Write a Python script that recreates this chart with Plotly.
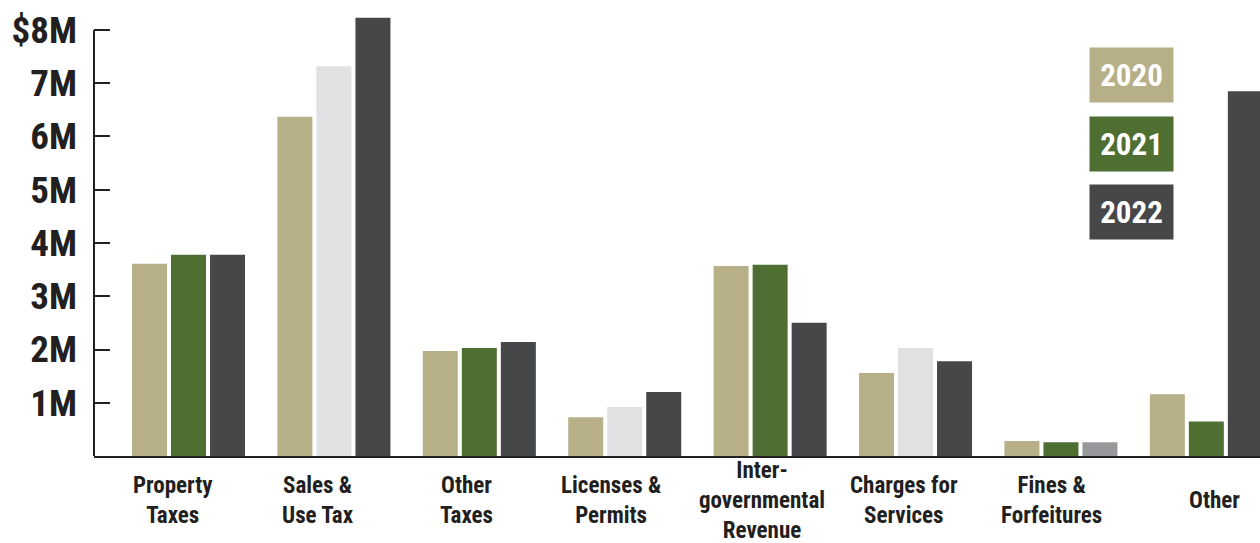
import plotly.graph_objects as go

categories = ["Property Taxes", "Sales & Use Tax", "Other Taxes", "Licenses & Permits",
              "Intergovernmental Revenue", "Charges for Services", "Fines & Forfeitures", "Other"]
cat_labels = ["Property<br>Taxes", "Sales &<br>Use Tax", "Other<br>Taxes", "Licenses &<br>Permits",
              "Inter-<br>governmental<br>Revenue", "Charges for<br>Services", "Fines &<br>Forfeitures", "Other"]
years = ["2020", "2021", "2022"]

# values in millions of dollars
v2020 = [3.61, 6.37, 1.97, 0.73, 3.57, 1.56, 0.28, 1.16]
v2021 = [3.78, 7.32, 2.03, 0.92, 3.59, 2.03, 0.26, 0.65]
v2022 = [3.78, 8.23, 2.14, 1.20, 2.50, 1.78, 0.26, 6.85]

tick_vals = [1, 2, 3, 4, 5, 6, 7, 8]
tick_text = ["1M", "2M", "3M", "4M", "5M", "6M", "7M", "$8M"]

TAN = "#b7af87"
GREEN = "#4e6e32"
DARK = "#464749"
LIGHT = "#e0e1e3"
MID = "#97989b"
INK = "#231f20"

year_colors = [TAN, GREEN, DARK]
colors2020 = [TAN] * 8
colors2021 = [GREEN, LIGHT, GREEN, LIGHT, GREEN, LIGHT, GREEN, GREEN]
colors2022 = [DARK, DARK, DARK, DARK, DARK, DARK, MID, DARK]

label_shift = [-16, -16, -13, -14, -8, -12, -9, 8]

FONT = "Liberation Sans Narrow, Roboto Condensed, Open Sans Condensed, DejaVu Sans Condensed, sans-serif"

fig = go.Figure()
for name, vals, cols in zip(years, [v2020, v2021, v2022], [colors2020, colors2021, colors2022]):
    fig.add_trace(go.Bar(x=categories, y=vals, name=name, marker=dict(color=cols, line=dict(width=0))))

# category labels
for cat, lab, sh in zip(categories, cat_labels, label_shift):
    fig.add_annotation(x=cat, xref="x", y=-0.0965, yref="paper", text=lab, showarrow=False,
                       xanchor="center", yanchor="middle", xshift=sh,
                       font=dict(family=FONT, size=23, color=INK, weight=700), align="center")

# legend boxes
legend_y = [0.836, 0.684, 0.535]
for name, col, yy in zip(years, year_colors, legend_y):
    fig.add_annotation(x=0.8898, xref="paper", y=yy, yref="paper", text=name, showarrow=False,
                       xanchor="center", yanchor="middle", width=83, height=54, borderpad=0,
                       bgcolor=col, font=dict(family=FONT, size=31, color="white", weight=700))

# y axis line from 0 to top tick
fig.add_shape(type="line", xref="paper", x0=0, x1=0, yref="y", y0=0, y1=tick_vals[-1],
              line=dict(color=INK, width=2))

fig.update_layout(
    width=1260, height=543,
    margin=dict(l=94, r=0, t=0, b=87),
    paper_bgcolor="white", plot_bgcolor="white",
    barmode="group", bargap=0.195, bargroupgap=0.103,
    showlegend=False,
    xaxis=dict(range=[-0.65, 7.369], showticklabels=False, ticks="", showgrid=False,
               showline=True, linecolor=INK, linewidth=2, zeroline=False, fixedrange=True),
    yaxis=dict(range=[0, 8.563], tickvals=tick_vals, ticktext=tick_text, showgrid=False,
               showline=False, zeroline=False, ticks="inside", ticklen=16, tickwidth=2,
               tickcolor=INK, ticklabelstandoff=16,
               tickfont=dict(family=FONT, size=37, color=INK, weight=700)),
)

fig.write_html("out.html", config={"displayModeBar": False},
               post_script="document.body.style.margin='0';document.body.style.padding='0';document.body.style.overflow='hidden';")
